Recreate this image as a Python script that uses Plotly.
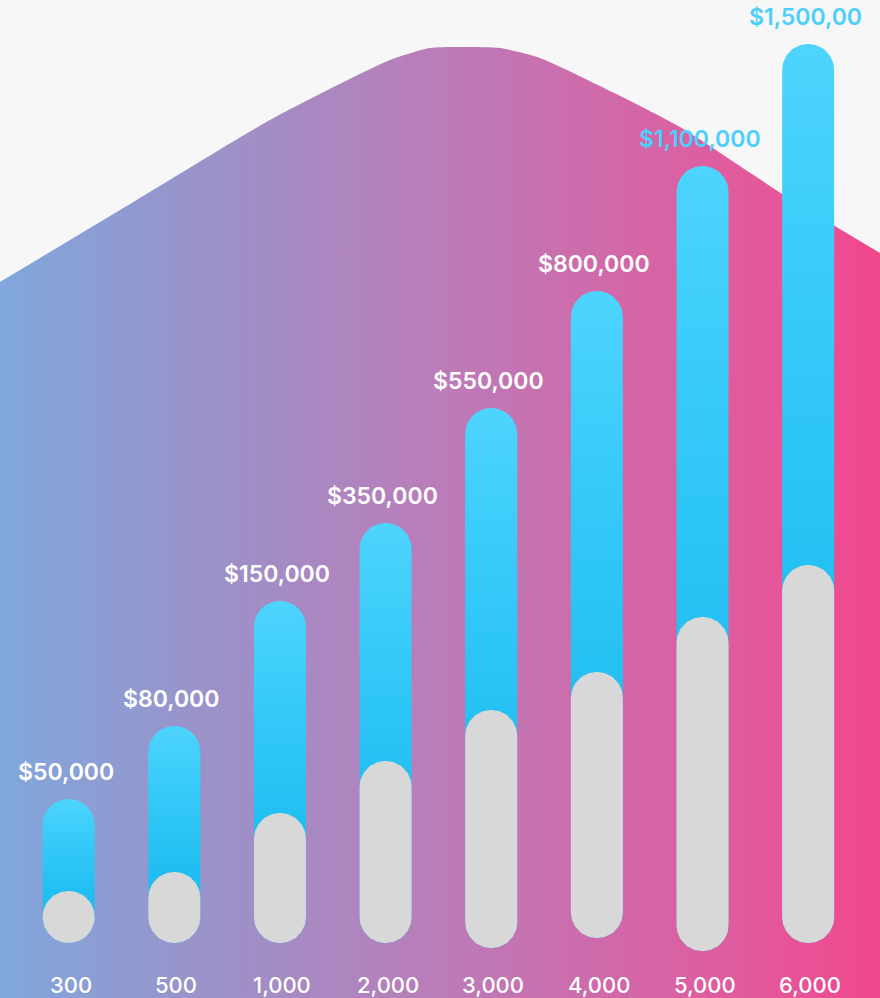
import numpy as np
import plotly.graph_objects as go

# ---------------- data ----------------
categories = ["300", "500", "1,000", "2,000", "3,000", "4,000", "5,000", "6,000"]
value_labels = ["$50,000", "$80,000", "$150,000", "$350,000", "$550,000",
                "$800,000", "$1,100,000", "$1,500,00"]
bar_levels = [144, 217, 342, 420, 535, 652, 777, 899]      # blue pill tops
fill_levels = [52, 71, 130, 182, 233, 271, 326, 378]       # grey pill tops
pill_bases = [0, 0, 0, 0, -5, 5, -8, 0]                    # pill bottoms
label_colors = ["white"] * 6 + ["#4ccffb", "#4ccffb"]

# decorative bell-shaped backdrop (x across, height from bottom)
bell_x = [0, 135, 270, 390, 430, 465, 500, 540, 600, 680, 787, 880]
bell_h = [716, 797, 878, 938, 950, 951, 950, 940, 912, 871, 801, 745]

# ---------------- geometry helpers ----------------
W, H = 880, 998
x2_range = [-0.650, 7.680]
y2_range = [-55, 943]
px_per_x = W / (x2_range[1] - x2_range[0])
px_per_y = H / (y2_range[1] - y2_range[0])
half_w_px = 26


def pill(xc, y0, y1):
    hw = half_w_px / px_per_x
    r = half_w_px / px_per_y
    if y1 - y0 < 2 * r:
        y1 = y0 + 2 * r
    t_top = np.linspace(0, np.pi, 40)
    t_bot = np.linspace(np.pi, 2 * np.pi, 40)
    xs = list(xc + hw * np.cos(t_top)) + list(xc + hw * np.cos(t_bot))
    ys = list(y1 - r + r * np.sin(t_top)) + list(y0 + r + r * np.sin(t_bot))
    xs.append(xs[0])
    ys.append(ys[0])
    return xs, ys


fig = go.Figure()

# backdrop
fig.add_trace(go.Scatter(
    x=bell_x, y=bell_h, mode="lines", line=dict(width=0, shape="spline", smoothing=0.6),
    fill="tozeroy",
    fillgradient=dict(type="horizontal", start=0, stop=W,
                      colorscale=[[0.0, "#80a7dc"], [0.25, "#9c91c8"], [0.5, "#bb7cb9"],
                                  [0.7, "#d168a9"], [0.85, "#e25a9c"], [1.0, "#f1478e"]]),
    hoverinfo="skip", xaxis="x", yaxis="y"))

blue_scale = [[0.0, "#1fbef0"], [0.35, "#21bff1"], [0.7, "#36caf8"], [1.0, "#4ed4fd"]]

for i, cat in enumerate(categories):
    bx, by = pill(i, pill_bases[i], bar_levels[i])
    fig.add_trace(go.Scatter(
        x=bx, y=by, mode="lines", line=dict(width=0), fill="toself",
        fillgradient=dict(type="vertical", colorscale=blue_scale),
        hoverinfo="skip", xaxis="x2", yaxis="y2"))
    gx, gy = pill(i, pill_bases[i], fill_levels[i])
    fig.add_trace(go.Scatter(
        x=gx, y=gy, mode="lines", line=dict(width=0), fill="toself",
        fillcolor="#d8d8d8", hoverinfo="skip", xaxis="x2", yaxis="y2"))

annotations = []
for i, cat in enumerate(categories):
    annotations.append(dict(
        x=i, y=bar_levels[i], xref="x2", yref="y2", text=value_labels[i],
        showarrow=False, yanchor="middle", yshift=27, xshift=-3,
        font=dict(family="Inter", size=23, color=label_colors[i], weight=600)))
    annotations.append(dict(
        x=i, y=-42, xref="x2", yref="y2", text=cat, showarrow=False,
        yanchor="middle", xshift=2,
        font=dict(family="Inter", size=22, color="white", weight=500)))

fig.update_layout(
    width=W, height=H, margin=dict(l=0, r=0, t=0, b=0),
    paper_bgcolor="#f7f7f7", plot_bgcolor="rgba(0,0,0,0)",
    showlegend=False,
    xaxis=dict(range=[0, W], visible=False, fixedrange=True),
    yaxis=dict(range=[0, H], visible=False, fixedrange=True),
    xaxis2=dict(range=x2_range, visible=False, overlaying="x", fixedrange=True),
    yaxis2=dict(range=y2_range, visible=False, overlaying="y", fixedrange=True),
    annotations=annotations,
)

fig.write_html("out.html", config={"displayModeBar": False},
               post_script="document.body.style.margin='0';document.body.style.overflow='hidden';")
